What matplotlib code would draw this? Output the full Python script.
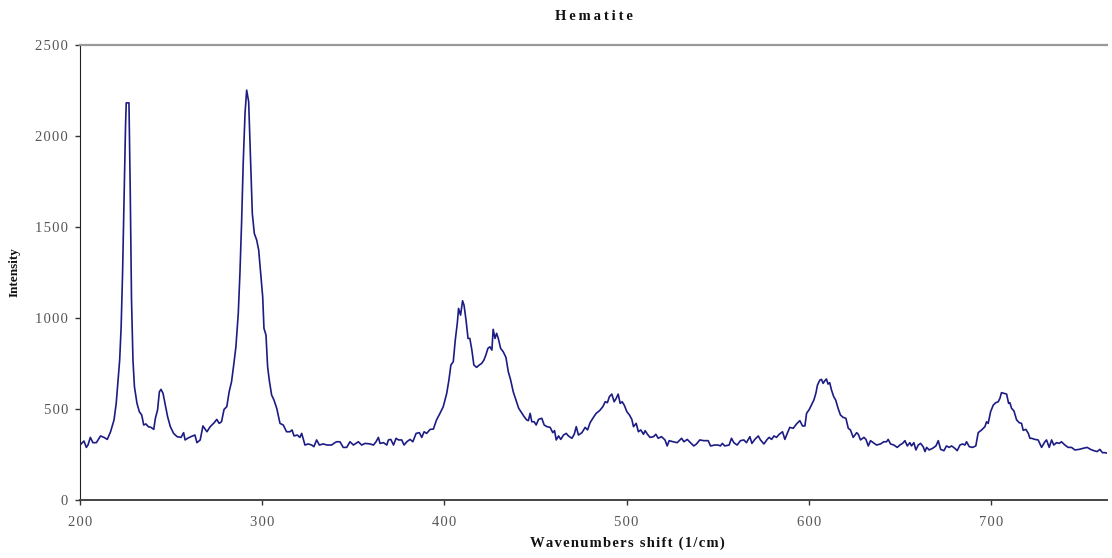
import matplotlib
matplotlib.use('Agg')
import matplotlib.pyplot as plt
from matplotlib.ticker import FuncFormatter

# Raman spectrum of hematite
wavenumber = [
    200.0, 202.2, 203.5, 204.4, 205.7, 207.1, 209.0, 211.3, 213.2, 215.0,
    216.8, 218.7, 219.9, 220.8, 221.8, 222.6, 223.4, 224.2, 225.0, 225.4,
    226.9, 227.6, 228.3, 229.1, 229.9, 231.3, 232.6, 233.9, 235.0, 236.2,
    237.5, 239.0, 240.5, 241.4, 242.6, 243.6, 244.5, 245.6, 246.7, 248.1,
    249.6, 251.4, 253.3, 255.5, 256.9, 257.7, 259.1, 260.9, 263.1, 264.2,
    266.0, 267.5, 269.7, 271.5, 273.7, 275.1, 276.4, 277.7, 279.1, 280.6,
    281.9, 283.2, 284.5, 285.6, 286.9, 287.8, 288.7, 289.6, 290.6, 291.5,
    292.6, 293.7, 294.6, 295.7, 297.0, 298.1, 299.2, 300.3, 301.0, 302.1,
    303.0, 303.9, 305.2, 306.5, 308.0, 309.8, 311.6, 313.4, 315.3, 316.4,
    317.5, 319.3, 320.7, 321.7, 323.5, 325.3, 327.2, 328.4, 329.9, 331.4,
    333.5, 335.7, 338.1, 339.9, 340.9, 342.7, 344.5, 346.4, 348.2, 350.1,
    352.8, 354.6, 356.5, 359.2, 361.1, 362.5, 363.8, 364.7, 366.6, 368.4,
    369.3, 370.6, 372.1, 373.5, 374.8, 376.6, 377.9, 379.4, 381.2, 382.7,
    384.5, 386.3, 387.6, 388.9, 390.3, 392.2, 394.0, 395.7, 397.6, 399.4,
    401.3, 402.5, 403.6, 404.9, 406.0, 407.1, 407.8, 408.9, 410.0, 410.8,
    411.9, 413.0, 414.0, 415.1, 416.2, 417.7, 419.2, 420.5, 421.7, 422.8,
    423.9, 425.0, 426.1, 426.8, 427.8, 428.7, 429.6, 430.9, 432.3, 433.8,
    435.1, 436.4, 437.8, 439.3, 440.8, 442.4, 443.8, 445.2, 446.1, 447.1,
    448.0, 449.3, 450.4, 451.7, 453.5, 454.8, 456.3, 458.1, 459.5, 460.5,
    461.4, 462.7, 463.9, 465.4, 466.9, 468.1, 470.0, 471.3, 472.4, 473.6,
    475.5, 477.3, 478.6, 480.0, 481.5, 483.3, 485.2, 487.0, 488.3, 489.5,
    490.6, 491.9, 493.2, 494.3, 495.4, 496.5, 497.6, 498.7, 500.2, 501.6,
    502.9, 503.8, 505.3, 506.5, 507.8, 509.3, 510.2, 511.5, 512.9, 514.8,
    516.1, 517.4, 519.2, 521.1, 522.3, 523.4, 525.6, 527.8, 530.2, 531.5,
    533.3, 535.1, 536.9, 538.4, 540.2, 542.4, 544.8, 546.1, 548.5, 550.3,
    551.5, 552.6, 553.9, 556.3, 557.6, 558.9, 560.7, 562.5, 564.4, 565.8,
    567.7, 568.8, 570.4, 572.3, 573.5, 575.4, 577.2, 578.3, 579.6, 580.9,
    582.3, 583.8, 585.6, 586.9, 588.2, 589.6, 591.5, 593.3, 595.1, 596.6,
    597.9, 598.8, 600.3, 601.5, 602.8, 603.9, 604.8, 606.1, 607.0, 607.9,
    608.8, 609.7, 610.6, 611.5, 612.5, 613.7, 614.8, 616.1, 617.4, 618.9,
    620.4, 621.7, 622.9, 624.4, 626.3, 627.2, 628.4, 630.3, 631.4, 632.7,
    633.9, 635.4, 637.2, 639.4, 641.2, 642.7, 643.6, 644.9, 646.7, 648.6,
    650.0, 651.5, 652.8, 654.1, 655.5, 656.4, 657.7, 658.8, 660.1, 661.4,
    662.8, 663.8, 664.7, 666.1, 668.0, 669.8, 671.1, 672.4, 674.2, 675.6,
    677.1, 678.4, 680.2, 681.5, 683.0, 684.4, 685.7, 686.6, 688.1, 689.9,
    691.7, 693.0, 694.9, 696.7, 697.6, 698.5, 699.8, 701.3, 702.7, 704.0,
    704.9, 705.8, 707.1, 708.6, 709.7, 710.4, 711.3, 712.6, 714.1, 715.5,
    716.8, 717.7, 719.2, 720.5, 721.4, 722.3, 724.1, 725.9, 727.8, 729.6,
    730.5, 732.0, 733.3, 734.5, 736.0, 737.5, 738.7, 740.6, 742.4, 744.2,
    746.1, 748.4, 750.6, 752.8, 754.7, 756.5, 758.3, 759.8, 761.2, 762.5,
    763.6,
]

intensity = [
    302, 324, 289, 302, 344, 315, 315, 352, 344, 333,
    375, 440, 531, 641, 769, 950, 1250, 1650, 2050, 2183,
    2183, 1700, 1100, 769, 623, 531, 485, 467, 412, 418,
    403, 399, 388, 449, 495, 595, 608, 586, 531, 458,
    403, 366, 348, 344, 370, 330, 339, 348, 357, 315,
    330, 407, 375, 403, 425, 443, 421, 430, 498, 513,
    595, 650, 751, 842, 1026, 1245, 1520, 1850, 2125, 2253,
    2189, 1850, 1575, 1465, 1429, 1374, 1245, 1117, 943, 907,
    733, 659, 577, 549, 504, 421, 412, 375, 375, 385,
    352, 357, 344, 366, 302, 308, 302, 293, 330, 302,
    308, 302, 302, 315, 320, 320, 289, 289, 320, 302,
    320, 302, 311, 308, 302, 320, 344, 311, 315, 302,
    330, 333, 302, 339, 330, 330, 302, 320, 333, 320,
    366, 370, 344, 375, 366, 388, 390, 440, 476, 513,
    586, 659, 742, 760, 879, 971, 1053, 1016, 1095, 1071,
    989, 888, 888, 824, 742, 729, 742, 751, 769, 797,
    833, 842, 824, 938, 888, 916, 888, 833, 815, 784,
    705, 659, 595, 549, 504, 480, 458, 440, 436, 476,
    430, 430, 412, 443, 449, 412, 403, 399, 370, 381,
    330, 352, 333, 357, 366, 352, 339, 361, 403, 357,
    370, 399, 385, 425, 449, 476, 491, 513, 540, 535,
    568, 582, 540, 558, 582, 531, 540, 522, 485, 467,
    443, 403, 421, 375, 385, 361, 381, 361, 344, 348,
    361, 339, 348, 330, 297, 326, 320, 315, 339, 320,
    333, 315, 297, 308, 330, 326, 326, 297, 302, 302,
    297, 311, 297, 302, 339, 315, 302, 326, 330, 315,
    348, 311, 333, 352, 330, 308, 333, 344, 333, 352,
    344, 361, 375, 333, 366, 399, 394, 418, 436, 407,
    407, 476, 498, 522, 549, 586, 632, 659, 663, 641,
    655, 665, 637, 645, 604, 568, 549, 504, 467, 454,
    449, 394, 385, 344, 370, 361, 330, 344, 333, 297,
    326, 315, 302, 308, 320, 320, 333, 308, 302, 289,
    302, 311, 326, 297, 315, 297, 315, 275, 302, 311,
    293, 266, 289, 275, 284, 297, 326, 278, 271, 297,
    289, 297, 284, 271, 302, 308, 302, 320, 293, 289,
    297, 370, 385, 403, 430, 421, 485, 522, 535, 540,
    558, 590, 586, 582, 531, 535, 504, 490, 440, 425,
    421, 383, 388, 366, 339, 339, 333, 330, 289, 320,
    330, 289, 330, 302, 315, 311, 320, 302, 289, 289,
    275, 278, 284, 289, 278, 271, 266, 278, 260, 260,
    258,
]

y_ticks = [0, 500, 1000, 1500, 2000, 2500]
x_ticks = [200, 300, 400, 500, 600, 700]


def spaced(text, gap='\u200a'):
    # widen the letters a little, the way the original sheet prints them
    return gap.join(text)


plt.rcParams['font.family'] = ['Liberation Serif', 'DejaVu Serif']

fig = plt.figure(figsize=(11.12, 5.58), dpi=100)
ax = fig.add_axes([0.0719, 0.104, 0.9236, 0.815])

ax.plot(wavenumber, intensity, color='#1c1c84', linewidth=1.2)

ax.set_xlim(200, 763.7)
ax.set_ylim(0, 2500)
ax.set_xticks(x_ticks)
ax.set_yticks(y_ticks)
ax.xaxis.set_major_formatter(FuncFormatter(lambda v, p: spaced(str(int(v)))))
ax.yaxis.set_major_formatter(FuncFormatter(lambda v, p: spaced(str(int(v)))))

ax.spines['right'].set_visible(False)
ax.spines['top'].set_color('#9a9a9a')
ax.spines['top'].set_linewidth(1.6)
ax.spines['left'].set_color('#222222')
ax.spines['bottom'].set_color('#444444')
ax.spines['bottom'].set_linewidth(1.4)

ax.tick_params(axis='both', direction='out', length=3.6, width=1,
               color='#333333', labelcolor='#555555', labelsize=10.5)
ax.tick_params(axis='x', pad=8)
ax.tick_params(axis='y', pad=5)

fig.text(594 / 1112, 1 - 17 / 558, spaced('Hematite', '\u2009'), ha='center', va='center',
         fontsize=10.5, fontweight='bold', color='#111111')
fig.text(627 / 1112, 1 - 543 / 558, spaced('Wavenumbers shift (1/cm)'),
         ha='center', va='center', fontsize=10.5, fontweight='bold', color='#111111')
fig.text(15 / 1112, 1 - 272 / 558, 'Intensity', ha='center', va='center',
         rotation=90, fontsize=9.5, fontweight='bold', color='#111111')

fig.savefig('out.png', dpi=100)
